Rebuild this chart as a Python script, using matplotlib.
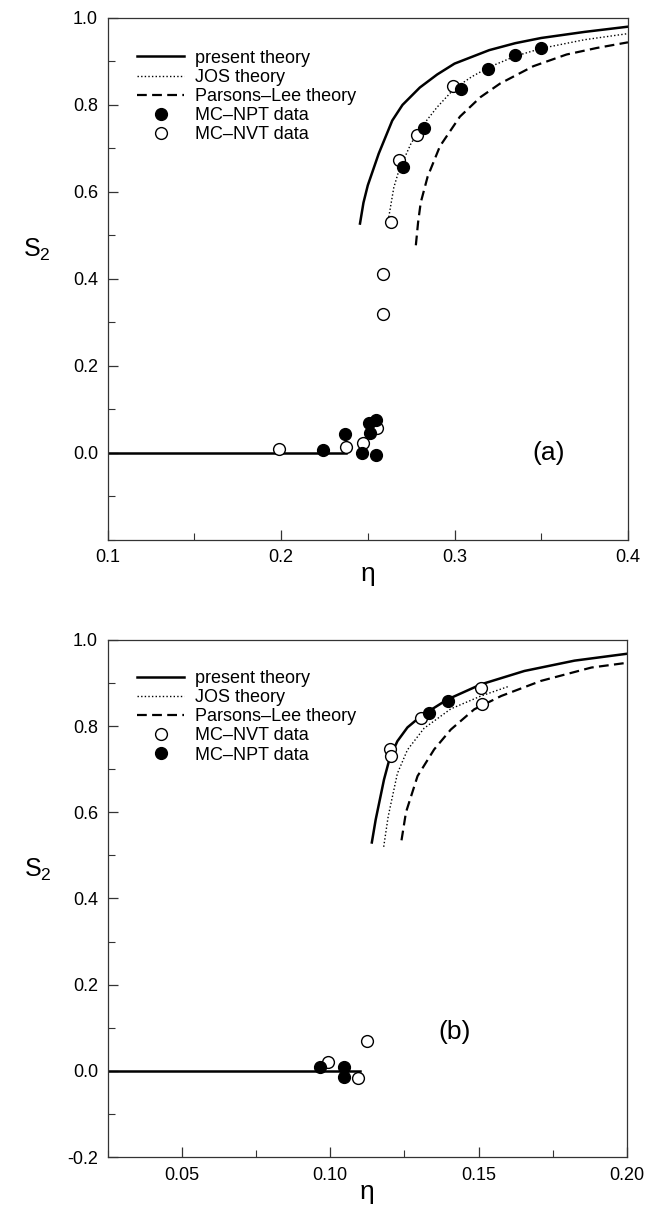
import matplotlib
matplotlib.use("Agg")
import matplotlib.pyplot as plt
from matplotlib.ticker import MultipleLocator
from matplotlib.lines import Line2D

plt.rcParams['font.family'] = ['Liberation Sans', 'DejaVu Sans']
plt.rcParams['mathtext.fontset'] = 'custom'
plt.rcParams['mathtext.rm'] = 'Liberation Sans'
plt.rcParams['mathtext.it'] = 'Liberation Sans'

# ---- panel (a) ----
a_iso_eta = [0.1, 0.2375]
a_iso_s = [0.0, 0.0]
a_present_eta = [0.2455, 0.2475, 0.2500, 0.2563, 0.2641, 0.2700, 0.2800, 0.2900, 0.3000, 0.3200, 0.3350, 0.3500, 0.3750, 0.4000]
a_present_s = [0.527, 0.575, 0.615, 0.688, 0.764, 0.800, 0.840, 0.870, 0.895, 0.926, 0.942, 0.954, 0.968, 0.980]
a_jos_eta = [0.2621, 0.2650, 0.2680, 0.2750, 0.2825, 0.2900, 0.3000, 0.3100, 0.3200, 0.3350, 0.3500, 0.3750, 0.4000]
a_jos_s = [0.542, 0.610, 0.650, 0.712, 0.757, 0.795, 0.838, 0.865, 0.887, 0.912, 0.930, 0.950, 0.964]
a_pl_eta = [0.2777, 0.2790, 0.2805, 0.2845, 0.2916, 0.3031, 0.3150, 0.3262, 0.3454, 0.3646, 0.3820, 0.4000]
a_pl_s = [0.477, 0.530, 0.575, 0.635, 0.705, 0.773, 0.818, 0.849, 0.889, 0.916, 0.931, 0.944]
a_npt_eta = [0.2240, 0.2368, 0.2465, 0.2545, 0.2512, 0.2507, 0.2547, 0.2704, 0.2825, 0.3037, 0.3194, 0.3348, 0.3500]
a_npt_s = [0.006, 0.042, 0.000, -0.006, 0.046, 0.069, 0.075, 0.656, 0.747, 0.837, 0.882, 0.915, 0.931]
a_nvt_eta = [0.1989, 0.2372, 0.2474, 0.2554, 0.2586, 0.2586, 0.2633, 0.2680, 0.2785, 0.2993]
a_nvt_s = [0.008, 0.012, 0.023, 0.057, 0.320, 0.410, 0.531, 0.674, 0.730, 0.843]

# ---- panel (b) ----
b_iso_eta = [0.025, 0.110]
b_iso_s = [0.0, 0.0]
b_present_eta = [0.1140, 0.1153, 0.1181, 0.1200, 0.1226, 0.1260, 0.1305, 0.1395, 0.1508, 0.1654, 0.1823, 0.2000]
b_present_s = [0.530, 0.583, 0.676, 0.725, 0.765, 0.797, 0.823, 0.862, 0.897, 0.928, 0.952, 0.968]
b_jos_eta = [0.1180, 0.1195, 0.1226, 0.1260, 0.1316, 0.1406, 0.1508, 0.1600]
b_jos_s = [0.520, 0.590, 0.690, 0.745, 0.795, 0.840, 0.870, 0.892]
b_pl_eta = [0.1240, 0.1255, 0.1294, 0.1350, 0.1406, 0.1485, 0.1576, 0.1710, 0.1880, 0.2000]
b_pl_s = [0.535, 0.600, 0.684, 0.746, 0.792, 0.839, 0.870, 0.905, 0.936, 0.947]
b_nvt_eta = [0.0993, 0.1095, 0.1125, 0.1201, 0.1204, 0.1305, 0.1508, 0.1510]
b_nvt_s = [0.021, -0.016, 0.070, 0.747, 0.730, 0.820, 0.888, 0.852]
b_npt_eta = [0.0964, 0.1046, 0.1046, 0.1331, 0.1397]
b_npt_s = [0.009, 0.008, -0.015, 0.831, 0.858]

LW_SOLID = 1.8
DOT = dict(color='k', lw=1.0, linestyle=(0, (1, 1.6)))
DASH = dict(color='k', lw=1.6, linestyle=(0, (4.4, 2.4)))
SOLID = dict(color='k', lw=LW_SOLID, linestyle='-')
FILLED = dict(marker='o', ms=8.5, mfc='k', mec='k', mew=1.0, ls='none')
OPEN = dict(marker='o', ms=8.5, mfc='white', mec='k', mew=1.0, ls='none')
FS = 13


def style(ax):
    for sp in ax.spines.values():
        sp.set_linewidth(0.9)
        sp.set_color('#333333')
    ax.tick_params(which='both', direction='in', top=False, right=False,
                   labelsize=FS, color='#333333')
    ax.tick_params(which='major', length=7, width=0.9)
    ax.tick_params(which='minor', length=5, width=0.8)
    ax.tick_params(axis='x', which='major', pad=7)
    ax.tick_params(axis='y', which='major', pad=7)
    ax.set_xlabel('η', fontsize=19, labelpad=-3)
    ax.set_ylabel('S$_2$', fontsize=18, rotation=0)
    ax.yaxis.set_label_coords(-0.135, 0.53)


fig = plt.figure(figsize=(6.46, 12.07), dpi=100)
ax_a = fig.add_axes([0.1666, 0.5530, 0.8055, 0.4321])
ax_b = fig.add_axes([0.1667, 0.0414, 0.8040, 0.4284])

# panel (a)
ax_a.plot(a_iso_eta, a_iso_s, **SOLID)
ax_a.plot(a_present_eta, a_present_s, **SOLID)
ax_a.plot(a_jos_eta, a_jos_s, **DOT)
ax_a.plot(a_pl_eta, a_pl_s, **DASH)
ax_a.plot(a_nvt_eta, a_nvt_s, **OPEN)
ax_a.plot(a_npt_eta, a_npt_s, **FILLED)
ax_a.set_xlim(0.1, 0.4)
ax_a.set_ylim(-0.2, 1.0)
ax_a.set_xticks([0.1, 0.2, 0.3, 0.4])
ax_a.set_xticklabels(['0.1', '0.2', '0.3', '0.4'])
ax_a.xaxis.set_minor_locator(MultipleLocator(0.05))
ax_a.set_yticks([0.0, 0.2, 0.4, 0.6, 0.8, 1.0])
ax_a.set_yticklabels(['0.0', '0.2', '0.4', '0.6', '0.8', '1.0'])
ax_a.yaxis.set_minor_locator(MultipleLocator(0.1))
style(ax_a)
ax_a.text(0.354, 0.0, '(a)', fontsize=19, ha='center', va='center')

h_a = [Line2D([], [], **SOLID), Line2D([], [], **DOT), Line2D([], [], **DASH),
       Line2D([], [], **FILLED), Line2D([], [], **OPEN)]
l_a = ['present theory', 'JOS theory', 'Parsons–Lee theory', 'MC–NPT data', 'MC–NVT data']
ax_a.legend(h_a, l_a, loc='upper left', bbox_to_anchor=(0.057, 0.939), frameon=False,
            fontsize=FS, handlelength=2.6, handletextpad=0.6, labelspacing=0.12,
            borderaxespad=0, borderpad=0)

# panel (b)
ax_b.plot(b_iso_eta, b_iso_s, **SOLID)
ax_b.plot(b_present_eta, b_present_s, **SOLID)
ax_b.plot(b_jos_eta, b_jos_s, **DOT)
ax_b.plot(b_pl_eta, b_pl_s, **DASH)
ax_b.plot(b_nvt_eta, b_nvt_s, **OPEN)
ax_b.plot(b_npt_eta, b_npt_s, **FILLED)
ax_b.set_xlim(0.025, 0.2)
ax_b.set_ylim(-0.2, 1.0)
ax_b.set_xticks([0.05, 0.10, 0.15, 0.20])
ax_b.set_xticklabels(['0.05', '0.10', '0.15', '0.20'])
ax_b.xaxis.set_minor_locator(MultipleLocator(0.025))
ax_b.set_yticks([-0.2, 0.0, 0.2, 0.4, 0.6, 0.8, 1.0])
ax_b.set_yticklabels(['-0.2', '0.0', '0.2', '0.4', '0.6', '0.8', '1.0'])
ax_b.yaxis.set_minor_locator(MultipleLocator(0.1))
style(ax_b)
ax_b.text(0.142, 0.09, '(b)', fontsize=19, ha='center', va='center')

h_b = [Line2D([], [], **SOLID), Line2D([], [], **DOT), Line2D([], [], **DASH),
       Line2D([], [], **OPEN), Line2D([], [], **FILLED)]
l_b = ['present theory', 'JOS theory', 'Parsons–Lee theory', 'MC–NVT data', 'MC–NPT data']
ax_b.legend(h_b, l_b, loc='upper left', bbox_to_anchor=(0.057, 0.942), frameon=False,
            fontsize=FS, handlelength=2.6, handletextpad=0.6, labelspacing=0.12,
            borderaxespad=0, borderpad=0)

fig.savefig('out.png', dpi=100)
